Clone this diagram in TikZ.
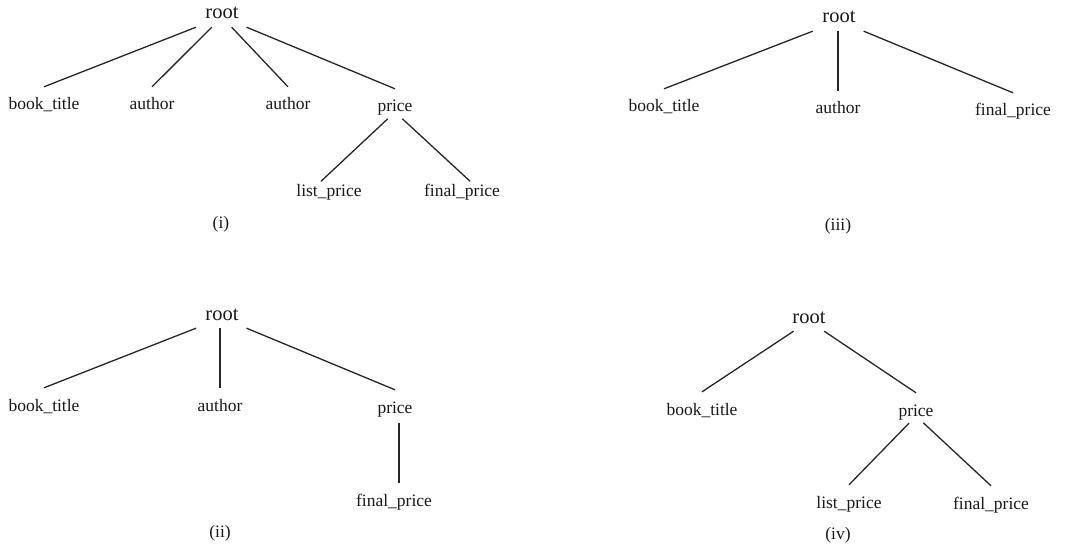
\documentclass[tikz,border=0pt]{standalone}
\usepackage{fontspec}
\setmainfont{Liberation Serif}
\begin{document}
\begin{tikzpicture}[x=1pt,y=-1pt,
  lbl/.style={font=\fontsize{17.5}{20}\selectfont, text=black!90, anchor=base, inner xsep=2pt, inner ysep=0pt, text height=23pt, text depth=9pt},
  rootnode/.style={font=\fontsize{20.5}{24}\selectfont, text=black!90, anchor=base, inner xsep=10pt, inner ysep=0pt, text height=12pt, text depth=8pt},
  tag/.style={font=\fontsize{17.5}{20}\selectfont, text=black!90, anchor=base, inner sep=0pt},
  conn/.style={line width=1.3pt, draw=black!85},
  subconn/.style={conn, shorten <=10pt}
]
\useasboundingbox (0,0) rectangle (1079,548);

% ---------- (i) ----------
\node[rootnode] (r1) at (222,19) {root};
\node[lbl] (r1bt) at (44,110) {book\_title};
\node[lbl] (r1a1) at (152,110) {author};
\node[lbl] (r1a2) at (288,110) {author};
\node[lbl] (r1p) at (395,112) {price};
\node[lbl] (r1lp) at (329,197) {list\_price};
\node[lbl] (r1fp) at (462,197) {final\_price};
\node[tag] (t1) at (221,229) {(i)};
\draw[conn] (r1) -- (r1bt.north);
\draw[conn] (r1) -- (r1a1.north);
\draw[conn] (r1) -- (r1a2.north);
\draw[conn] (r1) -- (r1p.north);
\draw[subconn, shorten >=-11pt] (r1p.base) -- (r1lp.north);
\draw[subconn, shorten >=-11pt] (r1p.base) -- (r1fp.north);

% ---------- (iii) ----------
\node[rootnode] (r3) at (839,23) {root};
\node[lbl] (r3bt) at (664,112) {book\_title};
\node[lbl] (r3a) at (838,114) {author};
\node[lbl] (r3fp) at (1013,116) {final\_price};
\node[tag] (t3) at (838,231) {(iii)};
\draw[conn] (r3) -- (r3bt.north);
\draw[conn] (r3a.north |- r3.south) -- (r3a.north);
\draw[conn] (r3) -- (r3fp.north);

% ---------- (ii) ----------
\node[rootnode] (r2) at (222,320) {root};
\node[lbl] (r2bt) at (44,411) {book\_title};
\node[lbl] (r2a) at (220,411) {author};
\node[lbl] (r2p) at (395,413) {price};
\node[lbl] (r2fp) at (394,506) {final\_price};
\node[tag] (t2) at (220,537) {(ii)};
\draw[conn] (r2) -- (r2bt.north);
\draw[conn] (r2a.north |- r2.south) -- (r2a.north);
\draw[conn] (r2) -- (r2p.north);
\draw[subconn] ([xshift=4pt]r2p.base) -- ([xshift=4pt]r2p.base |- r2fp.north);

% ---------- (iv) ----------
\node[rootnode] (r4) at (809,323) {root};
\node[lbl] (r4bt) at (702,415) {book\_title};
\node[lbl] (r4p) at (916,416) {price};
\node[lbl] (r4lp) at (849,508) {list\_price};
\node[lbl] (r4fp) at (991,509) {final\_price};
\node[tag] (t4) at (838,539) {(iv)};
\draw[conn] (r4) -- (r4bt.north);
\draw[conn] (r4) -- (r4p.north);
\draw[subconn] (r4p.base) -- (r4lp.north);
\draw[subconn] (r4p.base) -- (r4fp.north);
\end{tikzpicture}
\end{document}
